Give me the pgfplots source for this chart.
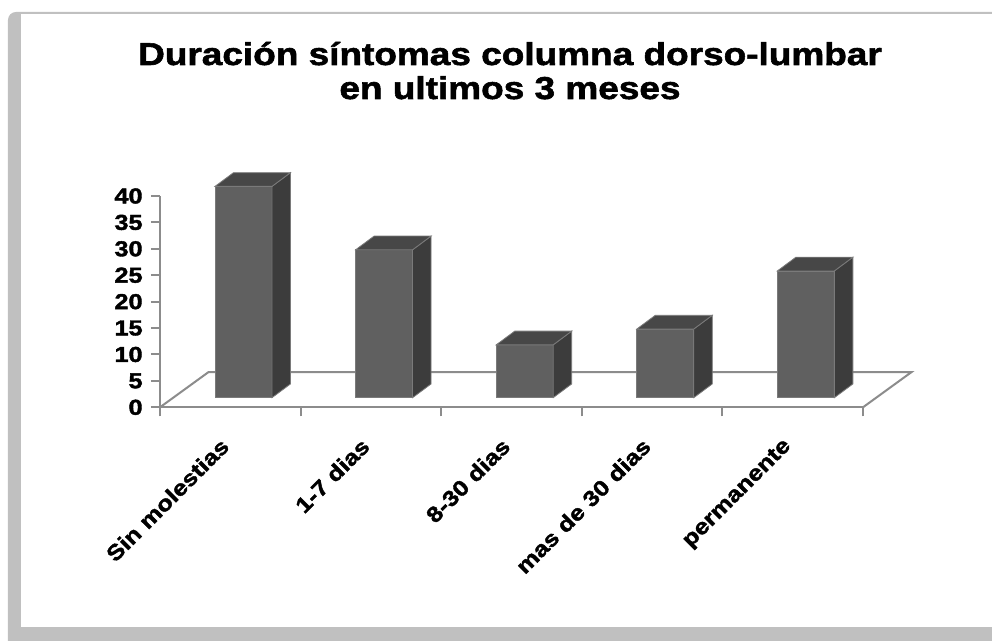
\documentclass[border=0pt]{standalone}
\usepackage{fontspec}
\setmainfont{Liberation Sans}[FakeStretch=1.17, BoldFeatures={FakeBold=1.8}]
\usepackage{pgfplots}
\pgfplotsset{compat=1.18}
\usepackage{pgfplotstable}
\definecolor{framegray}{HTML}{C0C0C0}
\definecolor{axgray}{HTML}{8C8C8C}
\definecolor{barfront}{HTML}{606060}
\definecolor{barside}{HTML}{3C3C3C}
\definecolor{bartop}{HTML}{474747}
\definecolor{baredge}{HTML}{7A7A7A}

\pgfplotstableread{
x v
0 40
1 28
2 10
3 13
4 24
}\data

\begin{document}
\begin{tikzpicture}
\useasboundingbox (-80pt,-116.85pt) rectangle (416pt,203.65pt);
\fill[framegray, rounded corners=4pt] (-76pt,-125pt) rectangle (425pt,197.65pt);
\fill[white] (-69.5pt,-109.85pt) rectangle (425pt,196.65pt);
\begin{axis}[
  at={(0,0)}, anchor=south west,
  scale only axis, width=351.5pt, height=105.65pt,
  xmin=-0.5, xmax=4.5, ymin=0, ymax=40,
  clip=false,
  axis x line*=bottom, axis y line*=left,
  axis line style={draw=axgray, line width=1pt, -},
  tick style={draw=axgray, line width=1pt},
  tick align=outside,
  major tick length=4.5pt,
  ytick={0,5,...,40},
  xtick={-0.5,0.5,1.5,2.5,3.5,4.5},
  xticklabels={,,,,,},
  extra x ticks={0,1,2,3,4},
  extra x tick labels={Sin molestias,1-7 dias,8-30 dias,mas de 30 dias,permanente},
  extra x tick style={major tick length=0pt},
  /pgf/number format/assume math mode=true,
  tick label style={font=\bfseries\fontsize{10.8pt}{12pt}\selectfont, text=black},
  xticklabel style={inner sep=0pt, xshift=-5.5pt, yshift=-14.5pt, rotate=45, anchor=north east},
  yticklabel style={inner sep=0pt, anchor=east, xshift=-4pt},
]
\draw[axgray, line width=1pt] (axis cs:-0.5,0) -- (axis cs:-0.1565,6.635) -- (axis cs:4.8435,6.635) -- (axis cs:4.5,0);
\pgfplotsinvokeforeach{0,...,4}{
  \pgfplotstablegetelem{#1}{v}\of\data
  \pgfmathsetmacro\bya{1.82}
  \pgfmathsetmacro\byb{\pgfplotsretval+1.82}
  \pgfmathsetmacro\bxa{#1+0.094-0.2025}
  \pgfmathsetmacro\bxb{#1+0.094+0.2025}
  \pgfmathsetmacro\bxc{\bxb+0.1316}
  \pgfmathsetmacro\bxd{\bxa+0.1316}
  \pgfmathsetmacro\byc{\bya+2.6}
  \pgfmathsetmacro\byd{\byb+2.6}
  \edef\temp{%
  \noexpand\addplot[fill=barfront, draw=baredge, line width=0.4pt] coordinates {(\bxa,\bya) (\bxb,\bya) (\bxb,\byb) (\bxa,\byb)} -- cycle;
  \noexpand\addplot[fill=barside, draw=baredge, line width=0.4pt] coordinates {(\bxb,\bya) (\bxc,\byc) (\bxc,\byd) (\bxb,\byb)} -- cycle;
  \noexpand\addplot[fill=bartop, draw=baredge, line width=0.4pt] coordinates {(\bxa,\byb) (\bxb,\byb) (\bxc,\byd) (\bxd,\byd)} -- cycle;}
  \temp
}
\end{axis}
\node[anchor=base, font=\bfseries\fontsize{15.8pt}{18pt}\selectfont] at (175pt,171.15pt) {Duración síntomas columna dorso-lumbar};
\node[anchor=base, font=\bfseries\fontsize{15.8pt}{18pt}\selectfont] at (175pt,154.15pt) {en ultimos 3 meses};
\end{tikzpicture}
\end{document}
